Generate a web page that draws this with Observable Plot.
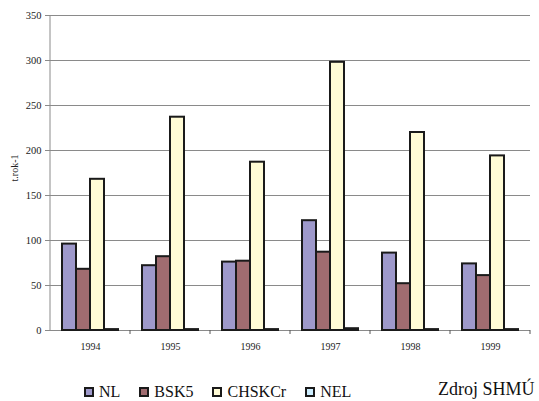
<!DOCTYPE html>
<html>
<head>
<meta charset="utf-8">
<script src="https://cdn.jsdelivr.net/npm/d3@7"></script>
<script src="https://cdn.jsdelivr.net/npm/@observablehq/plot@0.6"></script>
<style>
  body { margin: 0; background: #fff; }
  #wrap { position: relative; width: 539px; height: 401px; font-family: "Liberation Serif", "DejaVu Serif"; color: #111; }
  #legend { position: absolute; left: 84px; top: 384px; display: flex; align-items: center; gap: 19px; font-size: 16px; line-height: 16px; }
  .item { display: flex; align-items: center; gap: 5px; }
  .sw { width: 6px; height: 6px; border: 2px solid #1a1a1a; }
  #source { position: absolute; left: 438px; top: 380px; font-size: 18px; line-height: 18px; white-space: nowrap; }
  #chart svg text { font-family: "Liberation Serif", "DejaVu Serif"; }
</style>
</head>
<body>
<div id="wrap">
  <div id="chart"></div>
  <div id="legend"></div>
  <div id="source">Zdroj SHMÚ</div>
</div>
<script>
const years = ["1994", "1995", "1996", "1997", "1998", "1999"];
const series = ["NL", "BSK5", "CHSKCr", "NEL"];
const NL = [96, 72, 76, 122, 86, 74];
const BSK5 = [68, 82, 77, 87, 52, 61];
const CHSKCr = [168, 237, 187, 298, 220, 194];
const NEL = [1, 1, 1, 2, 1, 1];
const colors = ["#9e99cb", "#a06c70", "#fffbd5", "#cdeeff"];
const yTicks = [0, 50, 100, 150, 200, 250, 300, 350];
const yLabel = "t.rok-1";

const values = {NL, BSK5, CHSKCr, NEL};
const data = [];
years.forEach((y, i) => series.forEach(s => data.push({year: y, series: s, value: values[s][i]})));

const serif = "'Liberation Serif', 'DejaVu Serif'";
const plot = Plot.plot({
  width: 539,
  height: 360,
  marginTop: 15,
  marginBottom: 30,
  marginLeft: 50,
  marginRight: 9,
  style: {fontFamily: serif, fontSize: "10px", color: "#111", background: "#fff"},
  fx: {domain: years, padding: 0, label: null, axis: null},
  x: {domain: series, paddingInner: 0, paddingOuter: 0.667, axis: null},
  y: {domain: [0, 350], label: null, axis: null},
  color: {domain: series, range: colors},
  marks: [
    Plot.ruleY(yTicks, {stroke: "#8a8a8a", strokeWidth: 1}),
    Plot.axisY({ticks: yTicks, tickSize: 5, tickPadding: 4, stroke: "#8a8a8a", fill: "#222", fontSize: 10.5, label: null}),
    Plot.axisFx({anchor: "bottom", tickSize: 0, tickPadding: 12, fontSize: 10, fill: "#222", label: null}),
    Plot.barY(data, {fx: "year", x: "series", y: "value", fill: "series", stroke: "#1a1a1a", strokeWidth: 2, inset: 0})
  ]
});
document.getElementById("chart").appendChild(plot);

// left axis line, boundary ticks and y label
const svg = d3.select(plot);
const fx = plot.scale("fx");
const ys = plot.scale("y");
const y0 = ys.apply(0), yTop = ys.apply(350);
const g = svg.append("g");
const left = fx.apply(years[0]);
g.append("line").attr("x1", left).attr("x2", left).attr("y1", yTop).attr("y2", y0).attr("stroke", "#8a8a8a");
years.forEach(y => {
  const xb = fx.apply(y) + fx.bandwidth;
  g.append("line").attr("x1", xb).attr("x2", xb).attr("y1", y0).attr("y2", y0 + 4).attr("stroke", "#555");
});
g.append("text").attr("transform", `translate(18,${ys.apply(180)}) rotate(-90)`)
  .attr("text-anchor", "middle").attr("font-size", 10).attr("fill", "#222").text(yLabel);

const legend = d3.select("#legend");
series.forEach((s, i) => {
  const it = legend.append("div").attr("class", "item");
  it.append("div").attr("class", "sw").style("background", colors[i]);
  it.append("span").text(s);
});
</script>
</body>
</html>
